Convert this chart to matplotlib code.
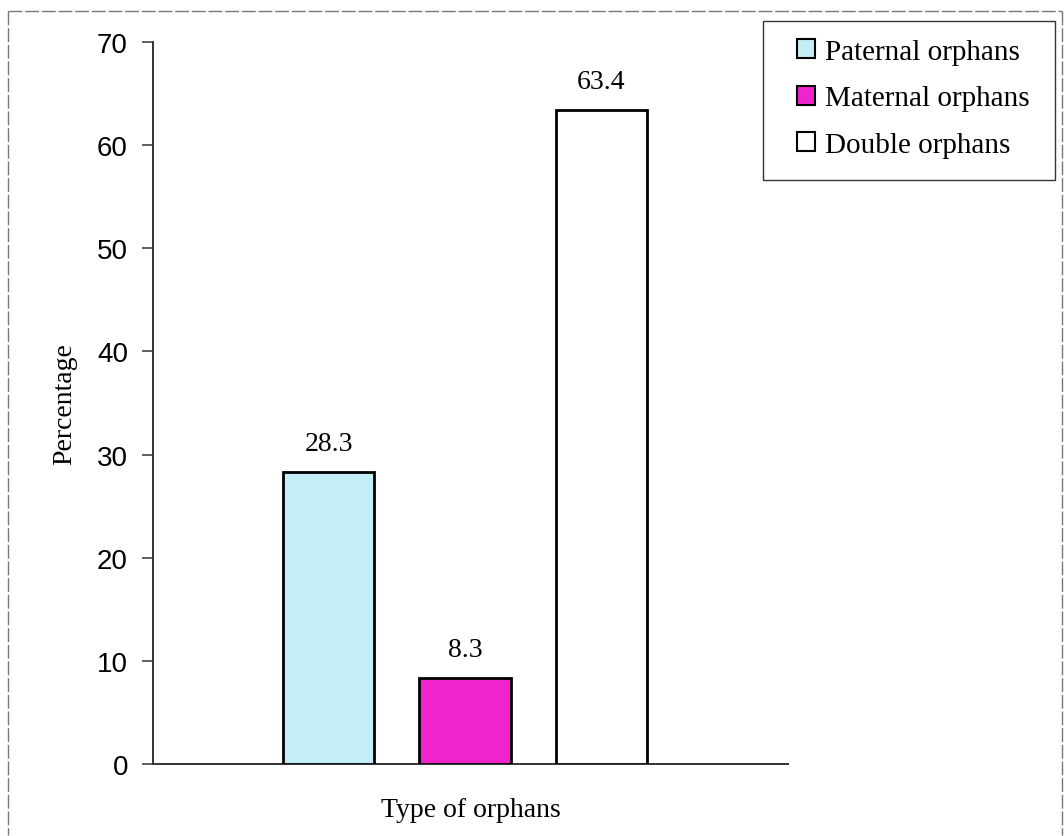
import matplotlib
matplotlib.use("Agg")
import matplotlib.pyplot as plt
from matplotlib.lines import Line2D
from matplotlib.patches import Patch, Rectangle

categories = ["Paternal orphans", "Maternal orphans", "Double orphans"]
values = [28.3, 8.3, 63.4]
colors = ["#C4EEF7", "#F024CC", "#FFFFFF"]
yticks = [0, 10, 20, 30, 40, 50, 60, 70]

W, H = 1064, 837
fig = plt.figure(figsize=(W / 100, H / 100), dpi=100)
fig.patch.set_facecolor("white")

def fx(px):
    return px / W

def fy(py):
    return 1 - py / H

ax = fig.add_axes([fx(153), fy(765), fx(788) - fx(153), fy(43) - fy(765)])

xpos = list(range(len(categories)))
bars = ax.bar(xpos, values, width=0.67, color=colors, edgecolor="black", linewidth=2, zorder=3)

for x, v in zip(xpos, values):
    ax.annotate(f"{v}", (x, v), xytext=(0, 16), textcoords="offset points",
                ha="center", va="baseline", fontsize=20, family="Liberation Serif")

ax.set_xlim(-1.29, 3.37)
ax.set_ylim(0, 70)
ax.set_yticks(yticks)
ax.set_yticklabels([str(t) for t in yticks], fontsize=20, family="Liberation Sans")
ax.set_xticks([])
ax.tick_params(axis="y", direction="out", length=8, width=1.2, color="#444444", pad=10)

for s in ["top", "right"]:
    ax.spines[s].set_visible(False)
for s in ["left", "bottom"]:
    ax.spines[s].set_color("#333333")
    ax.spines[s].set_linewidth(1.4)

ax.set_ylabel("Percentage", fontsize=20, family="Liberation Serif", labelpad=14)
ax.set_xlabel("Type of orphans", fontsize=20, family="Liberation Serif", labelpad=24)

handles = [Patch(facecolor=c, edgecolor="black", linewidth=1.5) for c in colors]
leg = fig.legend(handles, categories, loc="upper left",
                 bbox_to_anchor=(fx(797), fy(40)), bbox_transform=fig.transFigure,
                 prop={"family": "Liberation Serif", "size": 21},
                 frameon=False, handlelength=0.62, handleheight=0.62,
                 handletextpad=0.35, labelspacing=0.7, borderpad=0, borderaxespad=0)

# legend frame
fig.add_artist(Rectangle((fx(763), fy(181)), fx(1055) - fx(763), fy(22) - fy(181),
                         transform=fig.transFigure, fill=False, edgecolor="#333333",
                         linewidth=1.0))

# outer figure frame (left, top, right)
frame_kw = dict(color="#777777", linewidth=1.0, linestyle=(0, (10, 2)), transform=fig.transFigure)
fig.add_artist(Line2D([fx(8), fx(8)], [fy(12), fy(836)], **frame_kw))
fig.add_artist(Line2D([fx(8), fx(1062)], [fy(12), fy(12)], **frame_kw))
fig.add_artist(Line2D([fx(1062), fx(1062)], [fy(12), fy(836)], **frame_kw))

fig.savefig("out.png", dpi=100)
